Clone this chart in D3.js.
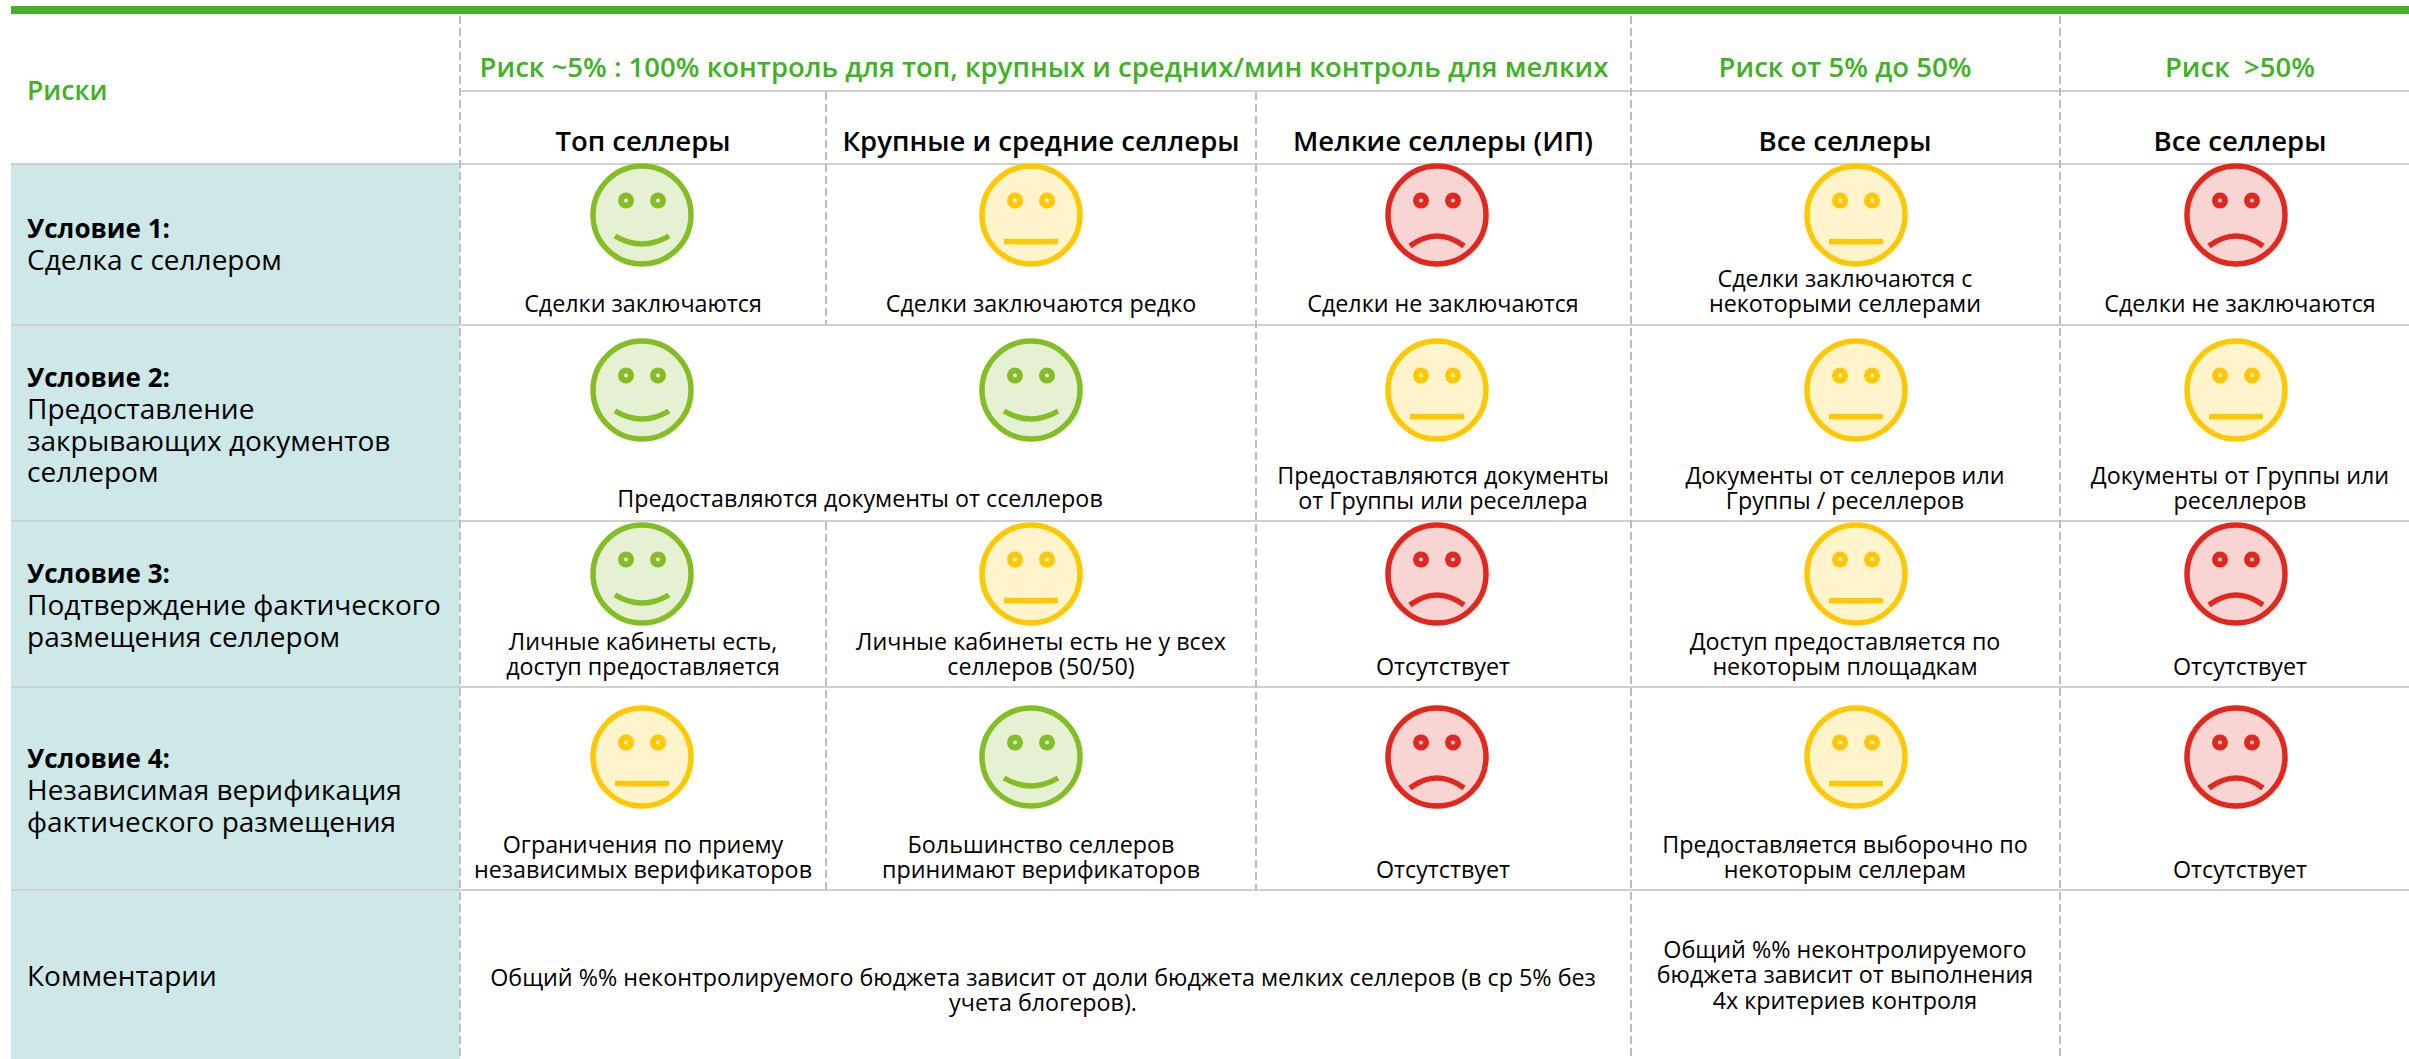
<!DOCTYPE html>
<html><head><meta charset="utf-8">
<script src="https://cdn.jsdelivr.net/npm/d3@7"></script>
<style>html,body{margin:0;padding:0;background:#fff}svg{display:block}text{font-family:"Open Sans",sans-serif}</style>
</head><body><svg id="c" width="2409" height="1059"></svg>
<script>
const rowTitles=["Условие 1:","Условие 2:","Условие 3:","Условие 4:"];
const rowSubtitles=[["Сделка с селлером"],["Предоставление","закрывающих документов","селлером"],["Подтверждение фактического","размещения селлером"],["Независимая верификация","фактического размещения"]];
const riskHeaders=["Риск ~5% : 100% контроль для топ, крупных и средних/мин контроль для мелких","Риск от 5% до 50%","Риск  >50%"];
const columns=["Топ селлеры","Крупные и средние селлеры","Мелкие селлеры (ИП)","Все селлеры","Все селлеры "];
const moods=[["good","mid","bad","mid","bad"],["good","good","mid","mid","mid"],["good","mid","bad","mid","bad"],["mid","good","bad","mid","bad"]];
const captions=[
 [["Сделки заключаются"],["Сделки заключаются редко"],["Сделки не заключаются"],["Сделки заключаются с","некоторыми селлерами"],["Сделки не заключаются"]],
 [[],[],["Предоставляются документы","от Группы или реселлера"],["Документы от селлеров или","Группы / реселлеров"],["Документы от Группы или","реселлеров"]],
 [["Личные кабинеты есть,","доступ предоставляется"],["Личные кабинеты есть не у всех","селлеров (50/50)"],["Отсутствует"],["Доступ предоставляется по","некоторым площадкам"],["Отсутствует"]],
 [["Ограничения по приему","независимых верификаторов"],["Большинство селлеров","принимают верификаторов"],["Отсутствует"],["Предоставляется выборочно по","некоторым селлерам"],["Отсутствует"]]];
const mergedCaption="Предоставляются документы от ссеЛлеров".toLowerCase().replace(/^п/,"П");
const commentLabel="Комментарии";
const comment1=["Общий %% неконтролируемого бюджета зависит от доли бюджета мелких селлеров (в ср 5% без","учета блогеров)."];
const comment2=["Общий %% неконтролируемого","бюджета зависит от выполнения","4х критериев контроля"];

const GREEN="#43b02a",GRID="#d0d0d0",DASH="#bdbdbd",TEAL="#cee8e7";
const palette={good:{s:"#84bd25",f:"#e6f1d3"},mid:{s:"#ffc800",f:"#fff4cc"},bad:{s:"#e0281e",f:"#f8d4d2"}};
const svg=d3.select("#c");
const rowEdges=[164,325,521,687,890];
const colCenters=d3.scaleOrdinal().domain(columns).range([643,1041,1443,1845,2240]);
const faceX=d3.scaleOrdinal().domain(columns).range([642,1031,1437,1856,2236]);
const faceY=d3.scaleOrdinal().domain(rowTitles).range([215,390,574,757]);
const capBottom=d3.scaleOrdinal().domain(rowTitles).range([312,509,675,878]);

svg.append("rect").attr("x",11).attr("y",6).attr("width",2398).attr("height",8).attr("fill",GREEN);
svg.append("rect").attr("x",11).attr("y",164).attr("width",449).attr("height",895).attr("fill",TEAL);

const hl=svg.append("g").attr("stroke",GRID).attr("stroke-width",2);
hl.append("line").attr("x1",460).attr("x2",2409).attr("y1",91).attr("y2",91);
rowEdges.forEach(y=>hl.append("line").attr("x1",11).attr("x2",2409).attr("y1",y).attr("y2",y));

const vl=svg.append("g").attr("stroke",DASH).attr("stroke-width",2).attr("stroke-dasharray","8 4");
[[460,16,1059],[1631,16,1059],[2060,16,1059],[826,92,324],[826,522,890],[1256,92,890]].forEach(d=>vl.append("line").attr("x1",d[0]).attr("x2",d[0]).attr("y1",d[1]).attr("y2",d[2]));

function txt(x,y,s,size,o={}){return svg.append("text").attr("x",x).attr("y",y).attr("font-size",size).attr("text-anchor",o.a||"middle").attr("font-weight",o.w||400).attr("fill",o.c||"#000").style("white-space","pre").text(s);}
txt(27,100,"Риски",26.5,{a:"start",w:600,c:GREEN});
const riskX=[1044,1845,2240];
riskHeaders.forEach((h,i)=>txt(riskX[i],77,h,27.5,{w:600,c:GREEN}));
columns.forEach(c=>txt(colCenters(c),151,c.trim(),27.5,{w:600}));
const titleY=[238,387,583,768];
rowTitles.forEach((t,i)=>{
  txt(27,titleY[i],t,26,{a:"start",w:700});
  rowSubtitles[i].forEach((s,j)=>txt(27,titleY[i]+32+j*31.5,s,28,{a:"start"}));
});
txt(27,986,commentLabel,28,{a:"start"});

function face(g,cx,cy,m){
  const p=palette[m];
  const G=g.append("g").attr("transform",`translate(${cx},${cy})`);
  G.append("circle").attr("r",49).attr("fill",p.f).attr("stroke",p.s).attr("stroke-width",5.5);
  [-16,16].forEach(dx=>G.append("circle").attr("cx",dx).attr("cy",-14.5).attr("r",5).attr("fill",p.f).attr("stroke",p.s).attr("stroke-width",6));
  const path=m==="good"?"M-27,21 Q0,37 27,21":m==="bad"?"M-27,31 Q0,11 27,31":"M-27,26.5 Q0,27 27,26.5";
  G.append("path").attr("d",path).attr("fill","none").attr("stroke",p.s).attr("stroke-width",5.5);
}
const faces=svg.append("g");
moods.forEach((row,i)=>row.forEach((m,j)=>face(faces,faceX(columns[j]),faceY(rowTitles[i]),m)));
captions.forEach((row,i)=>row.forEach((lines,j)=>{
  const b=capBottom(rowTitles[i]);
  lines.forEach((l,k)=>txt(colCenters(columns[j]),b-(lines.length-1-k)*25.3,l,23.3));
}));
txt(860,507,mergedCaption,23.3);
comment1.forEach((l,i)=>txt(1043,986+i*25.3,l,23.3));
comment2.forEach((l,i)=>txt(1845,958+i*25.3,l,23.3));
</script></body></html>
